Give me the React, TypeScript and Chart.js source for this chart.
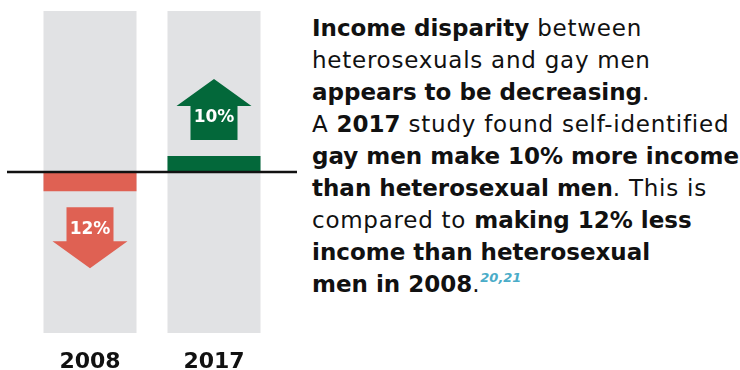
import React, { useEffect, useRef } from "react";
import { Chart, registerables } from "chart.js";

Chart.register(...registerables);

// ---- data ----
const years = ["2008", "2017"];
const incomeGap = [-12, 10]; // % income difference, gay vs heterosexual men
const gapLabels = ["12%", "10%"];
const axisRange = [-100, 100];

const GRAY = "#e1e2e4";
const RED = "#df6153";
const GREEN = "#03683a";
const INK = "#111111";
const TEAL = "#4aacc8";
const FONT = "'DejaVu Sans', sans-serif";

const arrowPlugin = {
  id: "arrows",
  afterDatasetsDraw(chart: any) {
    const { ctx, chartArea, scales } = chart;
    const meta = chart.getDatasetMeta(1);
    const zeroY = scales.y.getPixelForValue(0);
    ctx.save();
    meta.data.forEach((bar: any, i: number) => {
      const v = incomeGap[i];
      const d = v < 0 ? 1 : -1;
      const color = v < 0 ? RED : GREEN;
      const cx = bar.x;
      const shaftStart = bar.y + d * 16;
      const headBase = shaftStart + d * 34;
      const tip = headBase + d * 27;
      const sw = 23.5;
      const hw = 37.5;
      ctx.fillStyle = color;
      ctx.beginPath();
      ctx.moveTo(cx - sw, shaftStart);
      ctx.lineTo(cx + sw, shaftStart);
      ctx.lineTo(cx + sw, headBase);
      ctx.lineTo(cx + hw, headBase);
      ctx.lineTo(cx, tip);
      ctx.lineTo(cx - hw, headBase);
      ctx.lineTo(cx - sw, headBase);
      ctx.closePath();
      ctx.fill();
      ctx.fillStyle = "#ffffff";
      ctx.font = `bold 17px ${FONT}`;
      ctx.textAlign = "center";
      ctx.textBaseline = "middle";
      ctx.fillText(gapLabels[i], cx, bar.y + d * 38);
    });
    // zero line
    ctx.strokeStyle = INK;
    ctx.lineWidth = 2.6;
    ctx.beginPath();
    ctx.moveTo(chartArea.left - 21, zeroY);
    ctx.lineTo(chartArea.right + 21, zeroY);
    ctx.stroke();
    ctx.restore();
  },
};

function IncomeChart() {
  const ref = useRef<HTMLCanvasElement | null>(null);
  useEffect(() => {
    if (!ref.current) return;
    const chart = new Chart(ref.current, {
      type: "bar",
      data: {
        labels: years,
        datasets: [
          {
            data: years.map(() => axisRange) as any,
            backgroundColor: GRAY,
            grouped: false,
            order: 2,
            categoryPercentage: 1,
            barPercentage: 0.75,
          },
          {
            data: incomeGap,
            backgroundColor: incomeGap.map((v) => (v < 0 ? RED : GREEN)),
            grouped: false,
            order: 1,
            categoryPercentage: 1,
            barPercentage: 0.75,
          },
        ],
      },
      options: {
        responsive: false,
        animation: false,
        layout: { padding: { left: 28, right: 24, top: 11, bottom: 0 } },
        plugins: { legend: { display: false }, tooltip: { enabled: false } },
        scales: {
          x: {
            grid: { display: false, drawTicks: false },
            border: { display: false },
            ticks: {
              color: INK,
              padding: 16,
              font: { family: FONT, weight: "bold", size: 22 },
            },
            afterFit: (s: any) => {
              s.height = 37;
            },
          },
          y: {
            display: false,
            min: axisRange[0],
            max: axisRange[1],
          },
        },
      },
      plugins: [arrowPlugin],
    } as any);
    return () => chart.destroy();
  }, []);
  return (
    <canvas
      ref={ref}
      width={300}
      height={370}
      style={{ position: "absolute", left: 0, top: 0, width: 300, height: 370 }}
    />
  );
}

const B = ({ children }: { children: React.ReactNode }) => (
  <span style={{ fontWeight: 700, letterSpacing: 0 }}>{children}</span>
);

export default function App() {
  return (
    <div
      style={{
        position: "absolute",
        left: 0,
        top: 0,
        width: 740,
        height: 370,
        background: "#ffffff",
        overflow: "hidden",
      }}
    >
      <IncomeChart />
      <div
        style={{
          position: "absolute",
          left: 312,
          top: 12,
          whiteSpace: "nowrap",
          fontFamily: FONT,
          fontSize: 23,
          lineHeight: "32px",
          color: INK,
          fontWeight: 400,
          letterSpacing: "0.75px",
        }}
      >
        <B>Income disparity</B> between
        <br />
        heterosexuals and gay men
        <br />
        <B>appears to be decreasing</B>.
        <br />A <B>2017</B> study found self-identified
        <br />
        <B>gay men make 10% more income</B>
        <br />
        <B>than heterosexual men</B>. This is
        <br />
        compared to <B>making 12% less</B>
        <br />
        <B>income than heterosexual</B>
        <br />
        <B>men in 2008</B>.
        <span
          style={{
            color: TEAL,
            fontSize: 13,
            fontStyle: "italic",
            fontWeight: 700,
            letterSpacing: 0,
            position: "relative",
            top: -10,
          }}
        >
          20,21
        </span>
      </div>
    </div>
  );
}
